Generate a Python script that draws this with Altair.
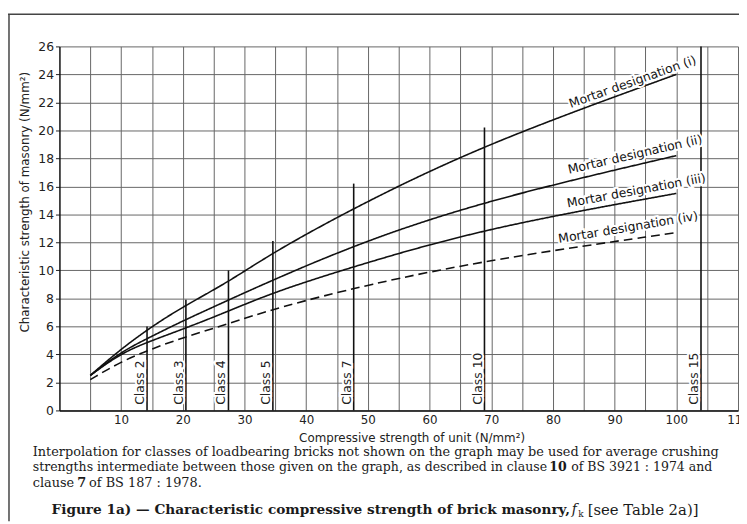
import altair as alt
import pandas as pd

# ---------------- data ----------------
strength = [5, 10, 15, 20, 27.5, 35, 50, 70, 100]
mortar_i = [2.5, 4.4, 6.0, 7.4, 9.2, 11.4, 15.0, 19.2, 24.0]
mortar_ii = [2.5, 4.2, 5.3, 6.4, 7.9, 9.4, 12.2, 15.1, 18.2]
mortar_iii = [2.5, 4.1, 5.0, 5.8, 7.1, 8.5, 10.6, 13.1, 15.5]
mortar_iv = [2.2, 3.5, 4.4, 5.2, 6.2, 7.3, 9.0, 10.8, 12.7]
series_names = ["(i)", "(ii)", "(iii)", "(iv)"]

mortar_labels = ["Mortar designation (i)", "Mortar designation (ii)",
                 "Mortar designation (iii)", "Mortar designation (iv)"]
label_x = [82.9, 82.6, 82.4, 81.0]
label_y = [21.6, 16.9, 14.5, 11.95]
label_angle = [340.5, 347, 349.5, 350.5]

class_names = ["Class 2", "Class 3", "Class 4", "Class 5", "Class 7", "Class 10", "Class 15"]
class_x = [14.2, 20.5, 27.4, 34.6, 47.7, 68.9, 104.0]
class_top = [6.0, 7.9, 10.0, 12.1, 16.2, 20.2, 26.0]

x_ticks = list(range(5, 115, 5))
y_ticks = list(range(0, 28, 2))

para_line1 = "Interpolation for classes of loadbearing bricks not shown on the graph may be used for average crushing"
para_line2a = "strengths intermediate between those given on the graph, as described in clause"
para_line2b = "10"
para_line2c = "of BS 3921 : 1974 and"
para_line3a = "clause"
para_line3b = "7"
para_line3c = "of BS 187 : 1978."
caption_bold = "Figure 1a) \u2014 Characteristic compressive strength of brick masonry,"
caption_f = "f"
caption_k = "k"
caption_rest = "[see Table 2a)]"

x_title = "Compressive strength of unit  (N/mm\u00b2)"
y_title = "Characteristic strength of masonry (N/mm\u00b2)"

# ---------------- tables ----------------
rows = []
for name, vals in zip(series_names, [mortar_i, mortar_ii, mortar_iii, mortar_iv]):
    for s, v in zip(strength, vals):
        rows.append({"x": s, "y": v, "series": name})
curves = pd.DataFrame(rows)

labels_df = pd.DataFrame({"x": label_x, "y": label_y, "t": mortar_labels, "a": label_angle})
class_df = pd.DataFrame({"x": class_x, "y": [0.0] * len(class_x), "y2": class_top, "t": class_names,
                         "ly": [0.4] * len(class_x)})

W, H = 686, 368
XS = alt.Scale(domain=[0, 110], nice=False, zero=False)
YS = alt.Scale(domain=[0, 26], nice=False, zero=False)
SANS = "DejaVu Sans"
SERIF = "DejaVu Serif"

x_axis = alt.Axis(values=x_ticks, labelExpr="datum.value % 10 === 0 ? datum.label : ''",
                  grid=True, ticks=False, labelFlush=False, labelPadding=4, labelOverlap=False,
                  labelFont=SANS, labelFontSize=12, labelColor="#222",
                  title=x_title, titleFont=SANS, titleFontSize=12, titleFontWeight="normal",
                  titleColor="#222", titleX=356, titleY=27, titleBaseline="middle",
                  domainColor="#111", domainWidth=1.5)
y_axis = alt.Axis(values=y_ticks, grid=True, tickSize=4, tickColor="#222", labelPadding=2,
                  labelOverlap=False,
                  labelFont=SANS, labelFontSize=12.5, labelColor="#222",
                  title=y_title, titleFont=SANS, titleFontSize=12, titleFontWeight="normal",
                  titleColor="#222", titleAngle=270, titleX=-35, titleY=157,
                  titleAlign="center", titleBaseline="middle",
                  domainColor="#111", domainWidth=1.5)

def X(field):
    return alt.X(field, type="quantitative", scale=XS, axis=x_axis)

def Y(field):
    return alt.Y(field, type="quantitative", scale=YS, axis=y_axis)

lines = alt.Chart(curves).mark_line(interpolate="basis", strokeWidth=1.6, color="#111").encode(
    x=X("x"),
    y=Y("y"),
    detail="series:N",
    strokeDash=alt.StrokeDash("series:N", scale=alt.Scale(domain=series_names,
                              range=[[1, 0], [1, 0], [1, 0], [9, 5]]), legend=None),
)

class_rules = alt.Chart(class_df).mark_rule(color="#111", strokeWidth=1.6).encode(
    x=X("x"),
    y=Y("y"),
    y2="y2:Q",
)

def class_text(halo):
    kw = dict(angle=270, align="left", baseline="bottom", font=SANS, fontSize=12.5)
    if halo:
        kw.update(fill="white", stroke="white", strokeWidth=4)
    else:
        kw.update(fill="#222")
    return alt.Chart(class_df).mark_text(**kw).encode(
        x=X("x"),
        y=Y("ly"),
        text="t:N",
    )

def mortar_text(halo):
    kw = dict(align="left", baseline="alphabetic", font=SANS, fontSize=12.5)
    if halo:
        kw.update(fill="white", stroke="white", strokeWidth=4)
    else:
        kw.update(fill="#111")
    return alt.Chart(labels_df).mark_text(**kw).encode(
        x=X("x"),
        y=Y("y"),
        text="t:N",
        angle=alt.Angle("a:Q", scale=None),
    )

def free_text(txt, px, py, align="left", font=SERIF, size=13, weight="normal", style="normal"):
    return alt.Chart(pd.DataFrame({"t": [txt]})).mark_text(
        align=align, baseline="middle", font=font, fontSize=size, fontWeight=weight,
        fontStyle=style, color="#1a1a1a").encode(
        x=alt.value(px), y=alt.value(py), text="t:N")

frame_left = alt.Chart(pd.DataFrame({"a": [0]})).mark_rule(color="#444", strokeWidth=1.5).encode(
    x=alt.value(-51), y=alt.value(-32.5), y2=alt.value(480))
frame_top = alt.Chart(pd.DataFrame({"a": [0]})).mark_rule(color="#444", strokeWidth=1.5).encode(
    x=alt.value(-52), x2=alt.value(690), y=alt.value(-32.5))

texts = [
    free_text(para_line1, -27, 410),
    free_text(para_line2a, -27, 425, size=12.65),
    free_text(para_line2b, 504, 425, align="center", size=12.65, weight="bold"),
    free_text(para_line2c, 660, 425, align="right", size=12.65),
    free_text(para_line3a, -27, 441),
    free_text(para_line3b, 18, 441, weight="bold"),
    free_text(para_line3c, 30, 441),
    free_text(caption_bold, -8, 469, size=13.8, weight="bold"),
    free_text(caption_f, 518, 469, size=14, style="italic"),
    free_text(caption_k, 524.5, 473, size=9),
    free_text(caption_rest, 534, 469, size=15),
]

chart = alt.layer(
    lines, class_rules, class_text(True), class_text(False),
    mortar_text(True), mortar_text(False), frame_left, frame_top, *texts
).properties(
    width=W, height=H,
    autosize=alt.AutoSizeParams(type="none"),
    padding={"left": 52, "top": 36, "right": 1, "bottom": 112},
).configure_view(strokeWidth=0).configure_axis(gridColor="#666", gridWidth=1, gridOpacity=1)

chart.save("out.html", embed_options={"renderer": "svg", "actions": False})
